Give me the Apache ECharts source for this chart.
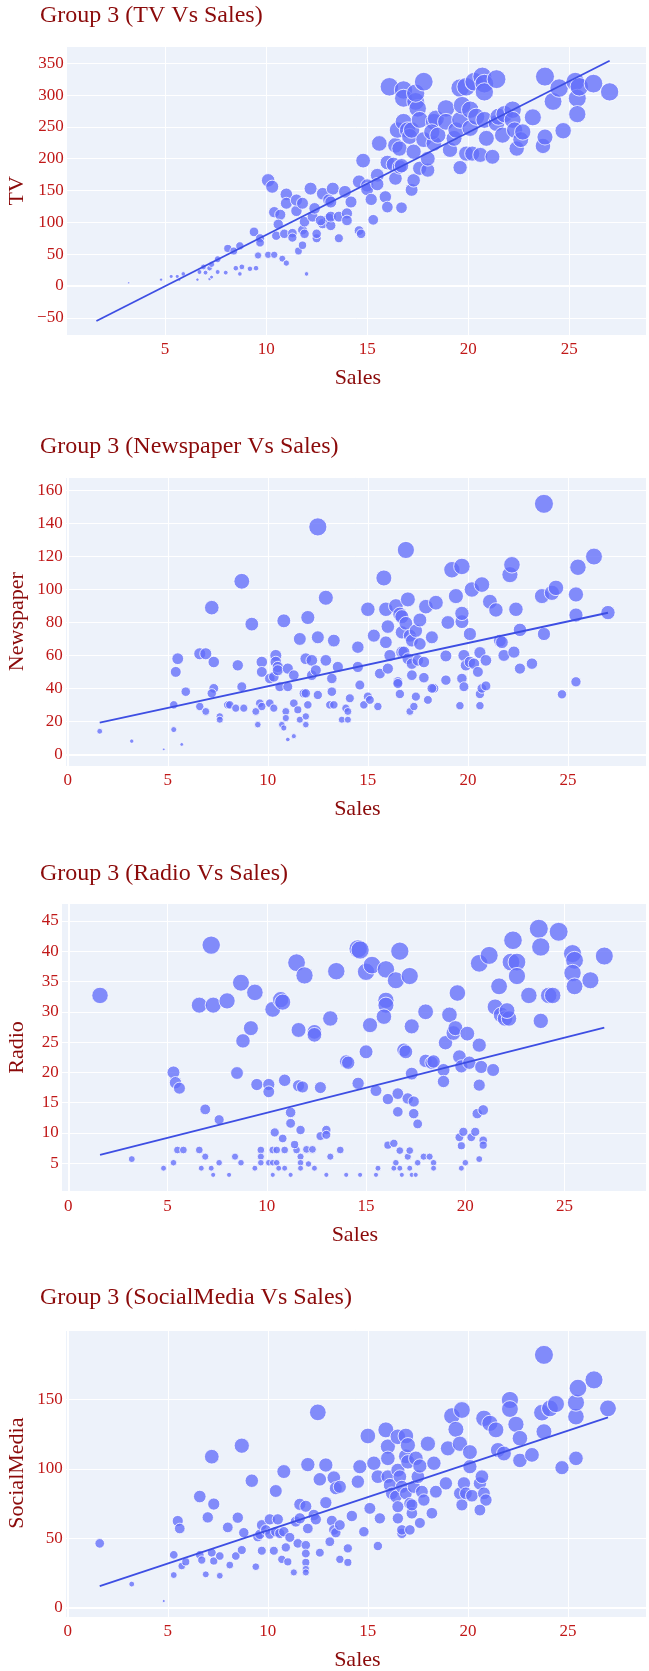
<!DOCTYPE html>
<html>
<head>
<meta charset="utf-8">
<script src="https://cdn.jsdelivr.net/npm/echarts@6/dist/echarts.min.js"></script>
<style>
html,body{margin:0;padding:0;background:#ffffff;}
#chart{width:649px;height:1671px;}
</style>
</head>
<body>
<div id="chart"></div>
<script>
// ---------- DATA ----------
// [Sales, TV]
const tvData = [[3.2,5],[4.8,10],[5.3,15],[5.6,15],[5.7,10],[5.9,19],[6.6,10],[6.7,22],[6.9,30],[7.0,21],[7.2,28],[7.3,34],[7.2,11],[7.3,14],[7.6,42],[7.6,22],[8.0,21],[8.1,59],[8.4,55],[8.5,28],[8.7,63],[8.7,19],[8.8,30],[9.2,27],[9.5,28],[9.4,85],[9.7,75],[9.7,68],[9.6,48],[10.1,49],[10.4,49],[10.1,166],[10.3,156],[10.4,116],[10.7,112],[10.6,97],[10.5,79],[10.8,43],[11.0,36],[11.0,144],[11.0,130],[10.9,82],[11.3,83],[11.3,76],[11.5,118],[11.5,135],[11.8,130],[11.6,55],[11.8,64],[11.8,88],[11.9,82],[11.9,101],[12.0,19],[12.2,153],[12.3,109],[12.4,122],[12.5,75],[12.5,82],[12.8,145],[12.8,98],[13.1,106],[13.2,95],[13.3,153],[13.1,135],[13.2,132],[12.7,103],[13.2,109],[13.6,109],[14.0,114],[14.0,103],[13.9,148],[13.6,75],[14.2,132],[14.6,164],[14.6,87],[14.7,82],[15.0,158],[15.0,152],[14.8,197],[15.2,136],[15.3,104],[15.5,174],[15.5,160],[15.6,224],[15.9,140],[16.0,124],[16.0,194],[16.1,313],[16.3,191],[16.4,221],[16.4,169],[16.5,245],[16.6,216],[16.6,187],[16.7,123],[16.7,189],[16.8,308],[16.8,295],[16.8,258],[17.0,245],[17.1,235],[17.2,151],[17.3,166],[17.3,211],[17.2,245],[17.4,290],[17.5,279],[17.4,303],[17.6,185],[17.8,321],[17.6,261],[17.8,230],[18.0,182],[18.0,200],[18.3,258],[18.4,263],[18.3,224],[18.2,242],[18.5,237],[18.9,279],[18.9,258],[19.1,214],[19.3,232],[19.4,245],[19.6,186],[19.6,261],[19.6,311],[19.7,284],[19.9,208],[19.9,313],[20.1,248],[20.1,277],[20.2,208],[20.3,321],[20.4,266],[20.6,206],[20.7,329],[20.8,261],[20.8,318],[20.8,305],[20.9,232],[21.2,203],[21.4,325],[21.4,256],[21.5,266],[21.7,237],[21.8,270],[22.2,277],[22.2,261],[22.3,245],[22.4,216],[22.6,230],[22.7,242],[23.2,265],[23.7,220],[23.8,234],[23.8,329],[24.2,290],[24.5,311],[24.7,244],[25.3,321],[25.4,295],[25.4,270],[25.5,313],[26.2,318],[27.0,305]];

// [Sales, Newspaper]
const newspaperData = [[1.6,14],[3.2,8],[4.8,3],[5.3,15],[5.7,6],[5.3,30],[5.4,50],[5.5,58],[5.9,38],[6.6,61],[6.6,29],[6.9,61],[6.9,26],[7.2,89],[7.3,56],[7.3,40],[7.2,37],[7.6,23],[7.6,21],[8.0,30],[8.1,30],[8.4,28],[8.5,54],[8.7,105],[8.7,41],[8.8,28],[9.2,79],[9.4,26],[9.5,18],[9.7,56],[9.7,50],[9.6,31],[9.7,29],[10.1,31],[10.1,46],[10.3,47],[10.3,28],[10.4,60],[10.4,56],[10.5,53],[10.5,51],[10.6,41],[10.7,18],[10.8,81],[10.8,16],[10.9,26],[10.9,22],[11.0,52],[11.0,41],[11.0,9],[11.3,48],[11.3,31],[11.3,11],[11.5,27],[11.6,70],[11.6,21],[11.8,37],[11.9,58],[11.9,23],[11.9,18],[11.9,37],[12.0,83],[12.0,30],[12.2,48],[12.2,57],[12.4,51],[12.5,138],[12.5,71],[12.5,36],[12.9,95],[12.9,57],[13.3,69],[13.2,46],[13.2,38],[13.1,30],[13.3,30],[13.5,53],[14.1,34],[13.9,28],[14.0,26],[13.7,21],[14.0,21],[14.5,65],[14.5,53],[14.6,42],[14.8,30],[15.0,88],[15.0,35],[15.1,33],[15.5,29],[15.3,72],[15.6,49],[15.8,107],[15.9,88],[15.9,68],[16.0,77.5],[16.0,52],[16.1,60],[16.4,90],[16.5,44],[16.5,43],[16.6,85],[16.7,74],[16.7,62],[16.8,62],[16.7,83.5],[16.6,36.6],[16.9,124],[16.9,79.5],[17.0,58],[17.0,94],[17.1,72],[17.1,26],[17.2,69],[17.2,55],[17.2,48],[17.3,29],[17.4,35],[17.4,75],[17.5,57],[17.6,67],[17.6,81.5],[17.8,46.5],[17.8,56],[17.9,89.6],[18.0,33],[18.2,71],[18.3,40],[18.4,92],[18.2,40],[18.9,45],[18.9,59.7],[19.0,80],[19.2,112],[19.4,96],[19.6,29.5],[19.7,80.5],[19.7,85.5],[19.7,114],[19.7,46],[19.8,60],[19.8,41],[19.9,54],[20.1,73],[20.1,56],[20.2,100],[20.3,55],[20.5,50],[20.6,36.6],[20.6,29.5],[20.6,61.7],[20.7,40],[20.7,103],[20.9,57],[20.9,41.5],[21.1,92.6],[21.4,87.6],[21.6,69],[21.7,68],[21.8,60],[22.1,109],[22.2,115],[22.3,62],[22.4,88],[22.6,75.5],[22.6,52],[23.2,55],[23.7,96],[23.8,73],[23.8,152],[24.2,98],[24.4,101],[24.7,36.4],[25.4,97],[25.4,84.5],[25.5,113.5],[25.4,44],[26.3,120],[27.0,86]];

// [Sales, Radio]
const radioData = [[1.6,32.7],[3.2,5.7],[4.8,4.2],[5.3,5.1],[5.3,20],[5.4,18.3],[5.6,17.4],[5.5,7.2],[5.8,7.2],[6.6,31.1],[6.6,7.2],[6.7,4.2],[6.9,6.1],[6.9,13.9],[7.2,41],[7.3,31.1],[7.2,4.2],[7.3,3.1],[7.6,12.2],[7.6,5.1],[8.0,31.8],[8.1,3.1],[8.4,6.1],[8.5,19.9],[8.7,34.8],[8.7,5.1],[8.8,25.2],[9.2,27.3],[9.4,4.2],[9.4,33.2],[9.5,18],[9.7,7.2],[9.7,6.1],[9.7,5.1],[10.1,18],[10.1,16.8],[10.1,5.1],[10.3,7.2],[10.3,3.1],[10.3,30.4],[10.4,10.1],[10.3,5.1],[10.5,7.2],[10.5,5.1],[10.6,4.2],[10.7,32],[10.8,31.6],[10.8,9.1],[10.9,18.7],[10.9,7.2],[10.9,4.2],[11.2,3.1],[11.2,13.4],[11.2,11.6],[11.5,7.2],[11.4,8.1],[11.5,38.1],[11.6,27],[11.6,17.8],[11.8,17.6],[11.7,10.5],[11.7,6.1],[11.7,5.1],[11.7,4.2],[11.9,36],[12.0,7.3],[12.1,4.9],[12.3,7.3],[12.4,26.7],[12.4,26.2],[12.4,4.2],[12.7,17.5],[12.7,9.5],[13.0,10.5],[13.0,9.7],[13.0,3.1],[13.2,28.9],[13.2,6.1],[13.5,36.7],[13.7,7.2],[14.0,21.8],[14.1,21.6],[14.0,3.1],[14.7,3.1],[14.6,18.2],[14.6,40.4],[14.7,40.2],[15.0,23.4],[15.0,36.6],[15.2,27.8],[15.3,37.7],[15.5,3.1],[15.6,4.2],[15.5,17],[16.0,37],[16.0,31.9],[16.0,31.1],[15.9,29.2],[16.1,15.6],[16.1,8],[16.4,8.3],[16.5,35.2],[16.4,4.2],[16.5,5.1],[16.6,16.5],[16.6,13.5],[16.7,40],[16.7,7.1],[16.7,4.2],[16.8,3.1],[16.9,23.7],[17.0,23.4],[17.1,15.7],[17.1,6.1],[17.2,7.1],[17.2,4.2],[17.2,35.9],[17.3,19.8],[17.3,3.1],[17.3,27.6],[17.4,15.2],[17.4,13.2],[17.5,3.1],[17.6,11.5],[17.6,5.1],[17.9,6.1],[18.0,21.9],[18.0,30],[18.2,6.1],[18.3,21.6],[18.4,21.8],[18.4,5.1],[18.4,4.2],[18.9,20.4],[18.9,18.5],[19.0,24.9],[19.2,29.5],[19.4,26.5],[19.5,27.3],[19.6,33.1],[19.7,22.6],[19.8,21],[19.8,7.9],[19.7,9.3],[19.8,4.2],[19.9,10.2],[20.0,5.1],[20.1,26.4],[20.2,21.6],[20.3,9.3],[20.5,10.2],[20.7,24.5],[20.7,17.9],[20.6,13.2],[20.7,5.7],[20.8,20.9],[20.9,8.8],[20.9,8],[20.9,13.8],[20.7,38],[21.2,39.3],[21.4,20.4],[21.5,30.8],[21.7,34.2],[21.8,29.5],[22.0,28.9],[22.2,28.9],[22.1,30.2],[22.3,38.2],[22.4,41.8],[22.6,38.2],[22.6,35.9],[23.2,32.7],[23.8,28.5],[23.7,43.7],[23.8,40.7],[24.2,32.7],[24.4,32.7],[24.7,43.2],[25.4,39.6],[25.5,38.5],[25.4,36.4],[25.5,34.2],[26.3,35.2],[27.0,39.2]];

// [Sales, SocialMedia]
const socialData = [[1.6,46.3],[3.2,17],[4.8,4.8],[5.3,38],[5.3,23.5],[5.5,62.4],[5.6,57],[5.7,30],[5.9,33],[6.6,80],[6.6,38],[6.7,34.3],[6.9,24],[7.0,65],[7.2,108.7],[7.3,74.6],[7.2,39.6],[7.3,33.6],[7.6,37.2],[7.6,23],[8.0,57.8],[8.1,30.7],[8.4,37.2],[8.5,64.8],[8.7,41.5],[8.7,116.6],[8.8,54],[9.2,91.4],[9.4,29.5],[9.5,51],[9.6,52.8],[9.7,59.5],[9.7,41],[9.9,56],[10.1,63.6],[10.1,53],[10.3,41],[10.4,84],[10.4,54.7],[10.5,63.6],[10.6,53.5],[10.7,34.8],[10.8,98],[10.8,54.7],[10.9,43.4],[11.0,33],[11.1,50.6],[11.3,25.4],[11.4,62],[11.5,46.3],[11.6,74.4],[11.6,64.3],[11.9,45],[11.9,39],[11.9,32.6],[11.9,27.8],[11.9,25.4],[11.9,73],[12.0,57],[12.0,103],[12.3,66.7],[12.4,63.6],[12.5,140.6],[12.6,92.4],[12.6,39.6],[12.9,102.7],[12.9,75.6],[13.2,62.6],[13.1,47.5],[13.3,93.6],[13.3,56],[13.4,54],[13.4,86],[13.6,87],[13.6,59.5],[13.6,34.8],[14.0,42.7],[14.0,32.6],[14.2,66],[14.5,90.7],[14.6,101.5],[14.8,54.7],[15.0,123.6],[15.1,71.5],[15.3,104],[15.5,94.3],[15.6,64.3],[15.5,44.4],[15.9,128],[16.0,116],[16.0,107.5],[16.0,94.3],[16.1,88.3],[16.2,82.3],[16.4,80],[16.5,123],[16.5,99],[16.5,64.3],[16.5,72.7],[16.6,94.3],[16.7,53.5],[16.7,56],[16.7,87],[16.9,123.6],[16.9,109],[16.9,82.3],[17.0,117],[17.0,105],[17.1,75],[17.1,56],[17.2,68],[17.2,74],[17.3,87],[17.4,107.5],[17.5,94.3],[17.6,102],[17.6,61],[17.7,83.5],[17.8,77.5],[18.0,118],[18.2,68],[18.3,104],[18.4,83.5],[18.9,89.5],[19.0,114.7],[19.2,138],[19.4,128.4],[19.6,118],[19.7,142.3],[19.6,82.3],[19.7,74],[19.8,89.5],[19.9,82.3],[20.1,112],[20.1,101.5],[20.2,80.6],[20.6,89.5],[20.7,94.3],[20.8,136.3],[20.8,82.3],[20.9,77.5],[20.6,70.3],[21.1,132.7],[21.4,128],[21.5,113.5],[21.8,111],[22.1,149.5],[22.1,143],[22.4,132],[22.6,122],[22.6,106],[23.2,110],[23.7,140.4],[23.8,126.7],[23.8,182],[24.1,143.5],[24.4,146.6],[24.7,100.8],[25.4,107.5],[25.4,137.5],[25.4,147.6],[25.5,158],[26.3,164],[27.0,143.5]];

// OLS trendline end points
const trendTV = [[1.6,-55],[27,354]];
const trendNewspaper = [[1.6,19.2],[27,85.9]];
const trendRadio = [[1.6,6.4],[27,27.4]];
const trendSocial = [[1.6,15.6],[27,137]];

// tick labels
const salesTicksTV = [5,10,15,20,25];
const salesTicks = [0,5,10,15,20,25];
const tvTicks = [-50,0,50,100,150,200,250,300,350];
const newspaperTicks = [0,20,40,60,80,100,120,140,160];
const radioTicks = [5,10,15,20,25,30,35,40,45];
const socialTicks = [0,50,100,150];

const titles = ['Group 3 (TV Vs Sales)','Group 3 (Newspaper Vs Sales)','Group 3 (Radio Vs Sales)','Group 3 (SocialMedia Vs Sales)'];
const yNames = ['TV','Newspaper','Radio','SocialMedia'];
const xName = 'Sales';

// ---------- LAYOUT / STYLE ----------
const FONT = '"Liberation Serif","Times New Roman",serif';
const TITLE_COLOR = '#8B0A0A';
const TICK_COLOR = '#C01818';
const BG = '#EDF2FA';
const MARK = '#636EFA';
const LINE = '#3D4EE3';
const MAXD = 19;

const panels = [
  {data: tvData, trend: trendTV, xTicks: salesTicksTV, yTicks: tvTicks,
   left: 66.7, right: 0, top: 46.7, height: 288.3, x: [0.13, 28.8], y: [-77, 376], ySplit: 9,
   titleY: 15.3, zeroX: false, zeroY: true},
  {data: newspaperData, trend: trendNewspaper, xTicks: salesTicks, yTicks: newspaperTicks,
   left: 65.7, right: 0, top: 477.3, height: 288.7, x: [-0.1, 28.9], y: [-7.1, 168.1], ySplit: 9,
   titleY: 446.7, zeroX: true, zeroY: true},
  {data: radioData, trend: trendRadio, xTicks: salesTicks, yTicks: radioTicks,
   left: 61.7, right: 1, top: 903.3, height: 288.4, x: [-0.33, 29.1], y: [0.32, 47.9], ySplit: 9,
   titleY: 873.3, zeroX: true, zeroY: false},
  {data: socialData, trend: trendSocial, xTicks: salesTicks, yTicks: socialTicks,
   left: 65.7, right: 0, top: 1329.3, height: 287.7, x: [-0.1, 28.9], y: [-6.7, 200.4], ySplit: 4,
   titleY: 1298, zeroX: true, zeroY: true}
];

function fmt(ticks) {
  return function (v) {
    const r = Math.round(v * 1e6) / 1e6;
    if (ticks.indexOf(r) < 0) return '';
    return r < 0 ? '\u2212' + Math.abs(r) : String(r);
  };
}

const option = {
  animation: false,
  backgroundColor: '#ffffff',
  title: panels.map((p, i) => ({
    text: titles[i], left: 40, top: p.titleY - 12, padding: 0,
    textStyle: {fontFamily: FONT, fontSize: 24, fontWeight: 'normal', color: TITLE_COLOR, lineHeight: 24}
  })),
  grid: panels.map(p => ({
    left: p.left, right: p.right, top: p.top, height: p.height,
    show: true, backgroundColor: BG, borderWidth: 0, containLabel: false
  })),
  xAxis: panels.map((p, i) => ({
    type: 'value', gridIndex: i, min: p.x[0], max: p.x[1], splitNumber: 5,
    axisLine: {show: false}, axisTick: {show: false},
    splitLine: {show: true, lineStyle: {color: '#ffffff', width: 1}},
    axisLabel: {margin: 6, color: TICK_COLOR, fontFamily: FONT, fontSize: 17, formatter: fmt(p.xTicks)}
  })),
  yAxis: panels.map((p, i) => ({
    type: 'value', gridIndex: i, min: p.y[0], max: p.y[1], splitNumber: p.ySplit,
    axisLine: {show: false}, axisTick: {show: false},
    splitLine: {show: true, lineStyle: {color: '#ffffff', width: 1}},
    axisLabel: {margin: 3, color: TICK_COLOR, fontFamily: FONT, fontSize: 17, formatter: fmt(p.yTicks)}
  })),
  graphic: [],
  series: []
};

panels.forEach((p, i) => {
  const vmax = Math.max.apply(null, p.data.map(d => d[1]));
  const zero = [];
  if (p.zeroY) zero.push({yAxis: 0});
  if (p.zeroX) zero.push({xAxis: 0});
  option.series.push({
    type: 'line', xAxisIndex: i, yAxisIndex: i, data: [], z: 1, silent: true,
    markLine: {silent: true, z: 1, symbol: 'none', animation: false, label: {show: false},
      lineStyle: {color: '#ffffff', width: 2, type: 'solid'}, data: zero}
  });
  option.series.push({
    type: 'scatter', xAxisIndex: i, yAxisIndex: i, data: p.data, z: 2,
    symbolSize: v => MAXD * Math.sqrt(Math.max(v[1], 0) / vmax),
    itemStyle: {color: MARK, opacity: 0.78, borderColor: '#ffffff', borderWidth: 1}
  });
  option.series.push({
    type: 'line', xAxisIndex: i, yAxisIndex: i, data: p.trend, z: 3,
    showSymbol: false, symbol: 'none', lineStyle: {color: LINE, width: 1.8}
  });
  const plotRight = 649 - p.right;
  const midX = (p.left + plotRight) / 2;
  const midY = p.top + p.height / 2;
  option.graphic.push({
    type: 'text', x: midX, y: p.top + p.height + 43.3,
    style: {text: xName, font: '22px ' + FONT, fill: TITLE_COLOR,
      align: 'center', verticalAlign: 'middle', textAlign: 'center', textVerticalAlign: 'middle'}
  });
  option.graphic.push({
    type: 'text', x: 17.3, y: midY, rotation: Math.PI / 2,
    style: {text: yNames[i], font: '22px ' + FONT, fill: TITLE_COLOR,
      align: 'center', verticalAlign: 'middle', textAlign: 'center', textVerticalAlign: 'middle'}
  });
});

const chart = echarts.init(document.getElementById('chart'), null, {renderer: 'canvas'});
chart.setOption(option);
</script>
</body>
</html>
